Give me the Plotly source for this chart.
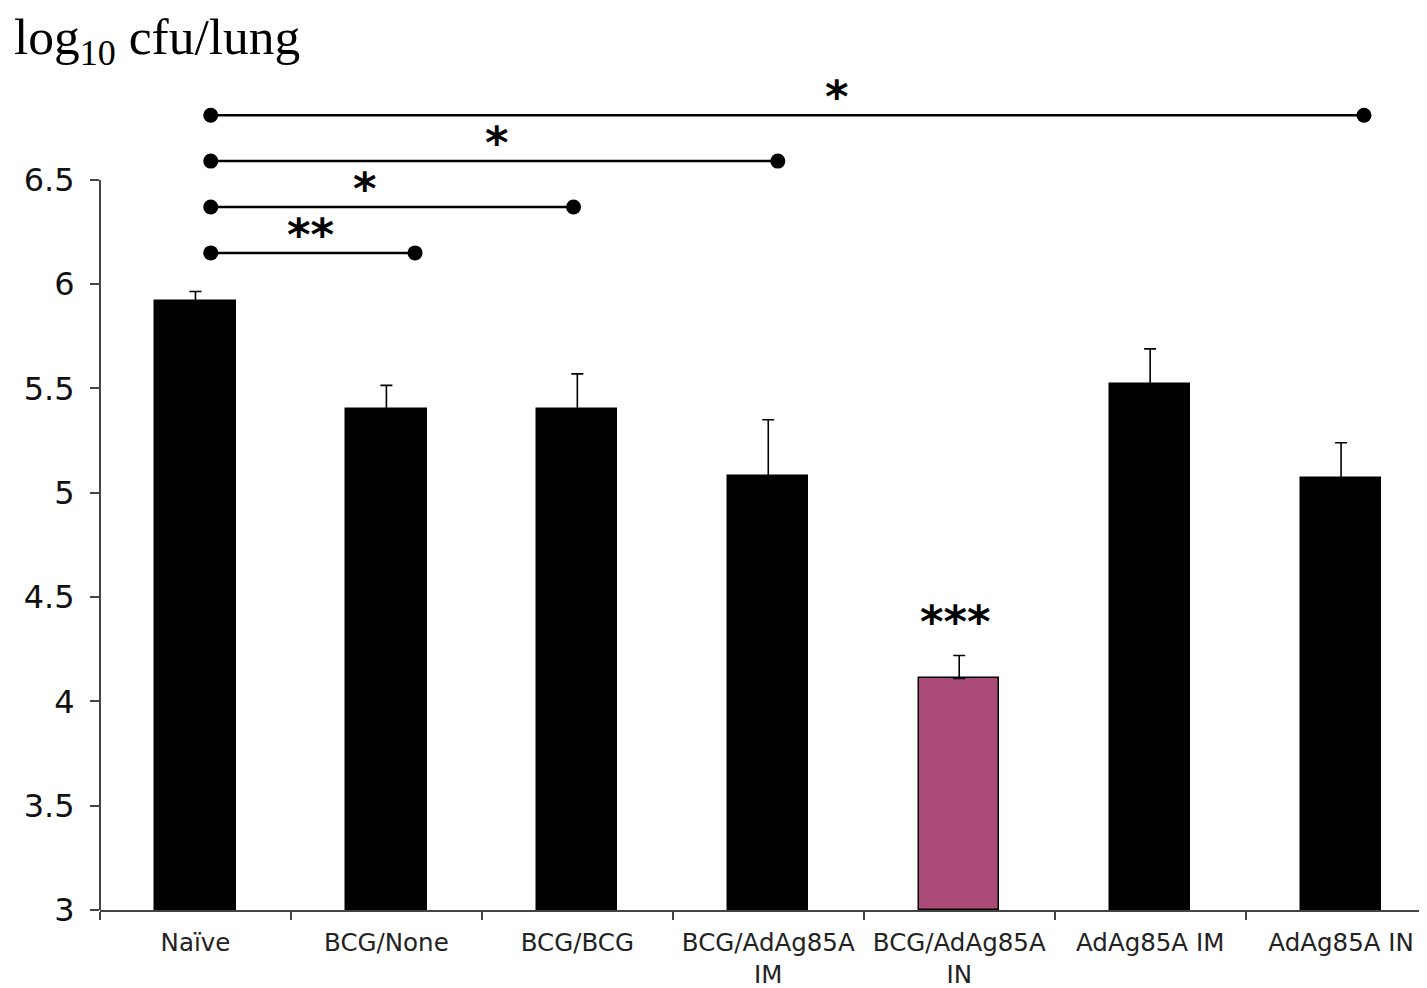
import plotly.graph_objects as go

# ---- data ----
categories = ["Naïve", "BCG/None", "BCG/BCG", "BCG/AdAg85A<br>IM",
              "BCG/AdAg85A<br>IN", "AdAg85A IM", "AdAg85A IN"]
values = [5.92, 5.40, 5.40, 5.08, 4.11, 5.52, 5.07]
errors = [0.045, 0.115, 0.17, 0.27, 0.11, 0.17, 0.17]
bar_colors = ["black", "black", "black", "black", "#A94A77", "black", "black"]

# significance brackets (start, end in category units, level in log10 units)
bracket_start = [0.08, 0.08, 0.08, 0.08]
bracket_end = [1.15, 1.98, 3.05, 6.12]
bracket_level = [6.15, 6.37, 6.59, 6.81]
bracket_label = ["**", "*", "*", "*"]
label_x = [0.60, 0.89, 1.58, 3.36]

solo_label = "***"
solo_label_x = 3.98
solo_label_y = 4.40

y_ticks = [3, 3.5, 4, 4.5, 5, 5.5, 6, 6.5]

XR = [-0.5, 6.45]

fig = go.Figure()
fig.add_trace(go.Bar(
    x=categories, y=[v - 3 for v in values], base=3,
    width=0.42,
    marker=dict(color=bar_colors, line=dict(color="black", width=1.5)),
    error_y=dict(type="data", symmetric=False, array=errors,
                 arrayminus=[0] * len(errors),
                 color="black", thickness=1.6, width=6),
    showlegend=False, hoverinfo="skip",
))

for s, e, lv in zip(bracket_start, bracket_end, bracket_level):
    fig.add_trace(go.Scatter(
        x=[s, e], y=[lv, lv], xaxis="x2", mode="lines+markers",
        line=dict(color="black", width=2.5),
        marker=dict(color="black", size=15),
        showlegend=False, hoverinfo="skip",
    ))

star_font = dict(family="DejaVu Sans", size=45, color="black")
for lx, lv, lab in zip(label_x, bracket_level, bracket_label):
    fig.add_annotation(x=lx, y=lv, xref="x2", yref="y", text="<b>" + lab + "</b>",
                       showarrow=False, font=star_font, yanchor="bottom", yshift=-10)
fig.add_annotation(x=solo_label_x, y=solo_label_y, xref="x2", yref="y",
                   text="<b>" + solo_label + "</b>",
                   showarrow=False, font=star_font, yanchor="middle", yshift=-4)

# y-axis line only up to 6.5
fig.add_shape(type="line", xref="paper", yref="y", x0=0, x1=0, y0=3, y1=6.5,
              line=dict(color="#444", width=2))

fig.add_annotation(xref="paper", yref="paper", x=-0.0665, y=1.008,
                   xanchor="left", yanchor="top", showarrow=False,
                   text="log<sub>10</sub> cfu/lung",
                   font=dict(family="Liberation Serif", size=51.5, color="black"))

fig.update_layout(
    width=1419, height=980,
    margin=dict(l=92, r=0, t=5, b=78, autoexpand=False),
    plot_bgcolor="white", paper_bgcolor="white",
    xaxis=dict(type="category", range=XR, tickson="boundaries",
               ticks="outside", ticklen=8, tickcolor="#444", tickwidth=2,
               showline=True, linecolor="#444", linewidth=2,
               showgrid=False, zeroline=False, ticklabelstandoff=10,
               automargin=False,
               tickfont=dict(family="DejaVu Sans", size=24.5, color="#222")),
    xaxis2=dict(overlaying="x", range=XR, visible=False),
    yaxis=dict(range=[3, 7.3], tickvals=y_ticks,
               ticktext=[f"{t:g}" for t in y_ticks],
               ticks="outside", ticklen=9, tickcolor="#444", tickwidth=2,
               showline=False, showgrid=False, zeroline=False,
               ticklabelstandoff=9, automargin=False,
               tickfont=dict(family="DejaVu Sans", size=32, color="#111")),
    bargap=0,
)

fig.write_html("out.html")
